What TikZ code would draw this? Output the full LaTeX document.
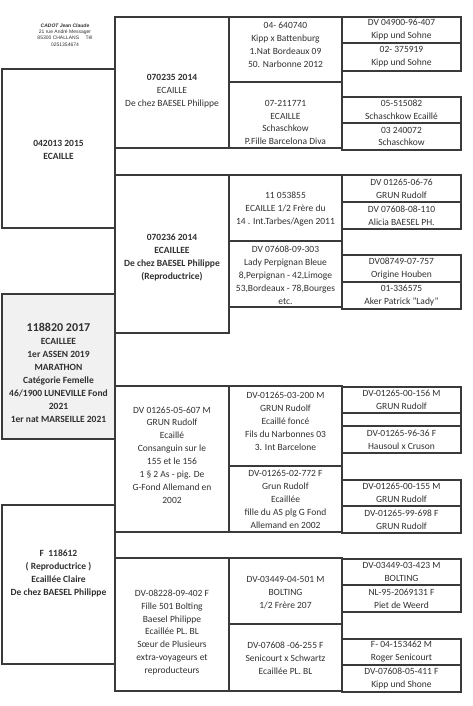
\documentclass[tikz,border=0pt]{standalone}
\usepackage{fontspec}
\setmainfont{Carlito}
\newfontfamily\headfont{Liberation Sans}
\definecolor{pedline}{HTML}{3A3A3A}
\definecolor{pedtext}{HTML}{303030}
\definecolor{pedfill}{HTML}{F1F1F1}
\tikzset{
  box/.style={draw=pedline, line width=1.3pt},
  txt/.style={align=center, inner sep=0pt, text=pedtext, font=\fontsize{9.5}{12.9}\selectfont},
  btxt/.style={txt, font=\fontsize{9.5}{12.9}\selectfont\bfseries},
}
\begin{document}
\begin{tikzpicture}[x=1pt, y=-1pt]
        \useasboundingbox (0,0) rectangle (472,706);
        % address
        \node[align=center, inner sep=0pt, text=pedtext, font=\headfont\fontsize{5}{6.2}\selectfont] (addr) at (65,35)
          {{\itshape\bfseries CADOT Jean Claude}\\21 rue André Messager\\85300 CHALLANS \quad Tél\\0251354674};
        % first column
        \draw[box] (2,69) rectangle (115,228);
        \node[btxt] (sire) at (58.5,149.5) {042013 2015\\ECAILLE};
        \draw[box, fill=pedfill] (2,294) rectangle (115,439);
        \node[btxt] (bird) at (58.5,373) {{\fontsize{12}{14}\selectfont 118820 2017}\\ECAILLEE\\1er ASSEN 2019\\MARATHON\\Catégorie Femelle\\46/1900 LUNEVILLE Fond\\2021\\1er nat MARSEILLE 2021};
        \draw[box] (2,505) rectangle (115,664);
        \node[btxt] (dam) at (58.5,573.5) {F\ \ 118612\\( Reproductrice )\\Ecaillée Claire\\De chez BAESEL Philippe};
        % second column
        \draw[box] (115,17) rectangle (229,148);
        \node[txt] (ss) at (172,91) {\textbf{070235 2014}\\ECAILLE\\De chez BAESEL Philippe};
        \draw[box] (115,175) rectangle (229,333);
        \node[btxt] (sd) at (172,257.5) {070236 2014\\ECAILLEE\\De chez BAESEL Philippe\\(Reproductrice)};
        \draw[box] (115,386) rectangle (229,532);
        \node[txt] (ds) at (172,455) {DV 01265-05-607 M\\GRUN Rudolf\\Ecaillé\\Consanguin sur le\\155 et le 156\\1 § 2 As - pig. De\\G-Fond Allemand en\\2002};
        \draw[box] (115,558) rectangle (229,691);
        \node[txt] (dd) at (172,632.5) {DV-08228-09-402 F\\Fille 501 Bolting\\Baesel Philippe\\Ecaillée PL. BL\\Sœur de Plusieurs\\extra-voyageurs et\\reproducteurs};
        % third column
        \draw[box] (229,17) rectangle (342,82);
        \node[txt] (sss) at (285.5,45) {04- 640740\\Kipp x Battenburg\\1.Nat Bordeaux 09\\50. Narbonne 2012};
        \draw[box] (229,82) rectangle (342,148);
        \node[txt] (ssd) at (285.5,122.5) {07-211771\\ECAILLE\\Schaschkow\\P.Fille Barcelona Diva};
        \draw[box] (229,175) rectangle (342,241);
        \node[txt] (sds) at (285.5,209) {11 053855\\ECAILLE 1/2 Frère du\\14 . Int.Tarbes/Agen 2011};
        \draw[box] (229,241) rectangle (342,307);
        \node[txt] (sdd) at (285.5,275) {DV 07608-09-303\\Lady Perpignan Bleue\\8,Perpignan - 42,Limoge\\53,Bordeaux - 78,Bourges\\etc.};
        \draw[box] (229,386) rectangle (342,466);
        \node[txt] (dss) at (285.5,421.5) {DV-01265-03-200 M\\GRUN Rudolf\\Ecaillé foncé\\Fils du Narbonnes 03\\3. Int Barcelone};
        \draw[box] (229,466) rectangle (342,532);
        \node[txt] (dsd) at (285.5,499.5) {DV-01265-02-772 F\\Grun Rudolf\\Ecaillée\\fille du AS plg G Fond\\Allemand en 2002};
        \draw[box] (229,558) rectangle (342,624);
        \node[txt] (dds) at (285.5,593) {DV-03449-04-501 M\\BOLTING\\1/2 Frère 207};
        \draw[box] (229,624) rectangle (342,691);
        \node[txt] (ddd) at (285.5,658) {DV-07608 -06-255 F\\Senicourt x Schwartz\\Ecaillée PL. BL};
        % fourth column
        \draw[box] (342,17) rectangle (461,43);
        \node[txt] (g1) at (401.5,30) {DV 04900-96-407\\Kipp und Sohne};
        \draw[box] (342,43) rectangle (461,71);
        \node[txt] (g2) at (401.5,57) {02- 375919\\Kipp und Sohne};
        \draw[box] (342,97) rectangle (461,123);
        \node[txt] (g3) at (401.5,110) {05-515082\\Schaschkow Ecaillé};
        \draw[box] (342,123) rectangle (461,150);
        \node[txt] (g4) at (401.5,136.5) {03 240072\\Schaschkow};
        \draw[box] (342,175) rectangle (461,202);
        \node[txt] (g5) at (401.5,188.5) {DV 01265-06-76\\GRUN Rudolf};
        \draw[box] (342,202) rectangle (461,229);
        \node[txt] (g6) at (401.5,215.5) {DV 07608-08-110\\Alicia BAESEL PH.};
        \draw[box] (342,255) rectangle (461,282);
        \node[txt] (g7) at (401.5,268.5) {DV08749-07-757\\Origine Houben};
        \draw[box] (342,282) rectangle (461,309);
        \node[txt] (g8) at (401.5,295.5) {01-336575\\Aker Patrick "Lady"};
        \draw[box] (342,387) rectangle (461,413);
        \node[txt] (g9) at (401.5,400) {DV-01265-00-156 M\\GRUN Rudolf};
        \draw[box] (342,413) rectangle (461,426);
        \draw[box] (342,426) rectangle (461,453);
        \node[txt] (g10) at (401.5,439.5) {DV-01265-96-36 F\\Hausoul x Cruson};
        \draw[box] (342,480) rectangle (461,506);
        \node[txt] (g11) at (401.5,493) {DV-01265-00-155 M\\GRUN Rudolf};
        \draw[box] (342,506) rectangle (461,533);
        \node[txt] (g12) at (401.5,519.5) {DV-01265-99-698 F\\GRUN Rudolf};
        \draw[box] (342,559) rectangle (461,585);
        \node[txt] (g13) at (401.5,572) {DV-03449-03-423 M\\BOLTING};
        \draw[box] (342,585) rectangle (461,612);
        \node[txt] (g14) at (401.5,598.5) {NL-95-2069131 F\\Piet de Weerd};
        \draw[box] (342,639) rectangle (461,665);
        \node[txt] (g15) at (401.5,652) {F- 04-153462 M\\Roger Senicourt};
        \draw[box] (342,665) rectangle (461,692);
        \node[txt] (g16) at (401.5,678.5) {DV-07608-05-411 F\\Kipp und Shone};
\end{tikzpicture}
\end{document}
